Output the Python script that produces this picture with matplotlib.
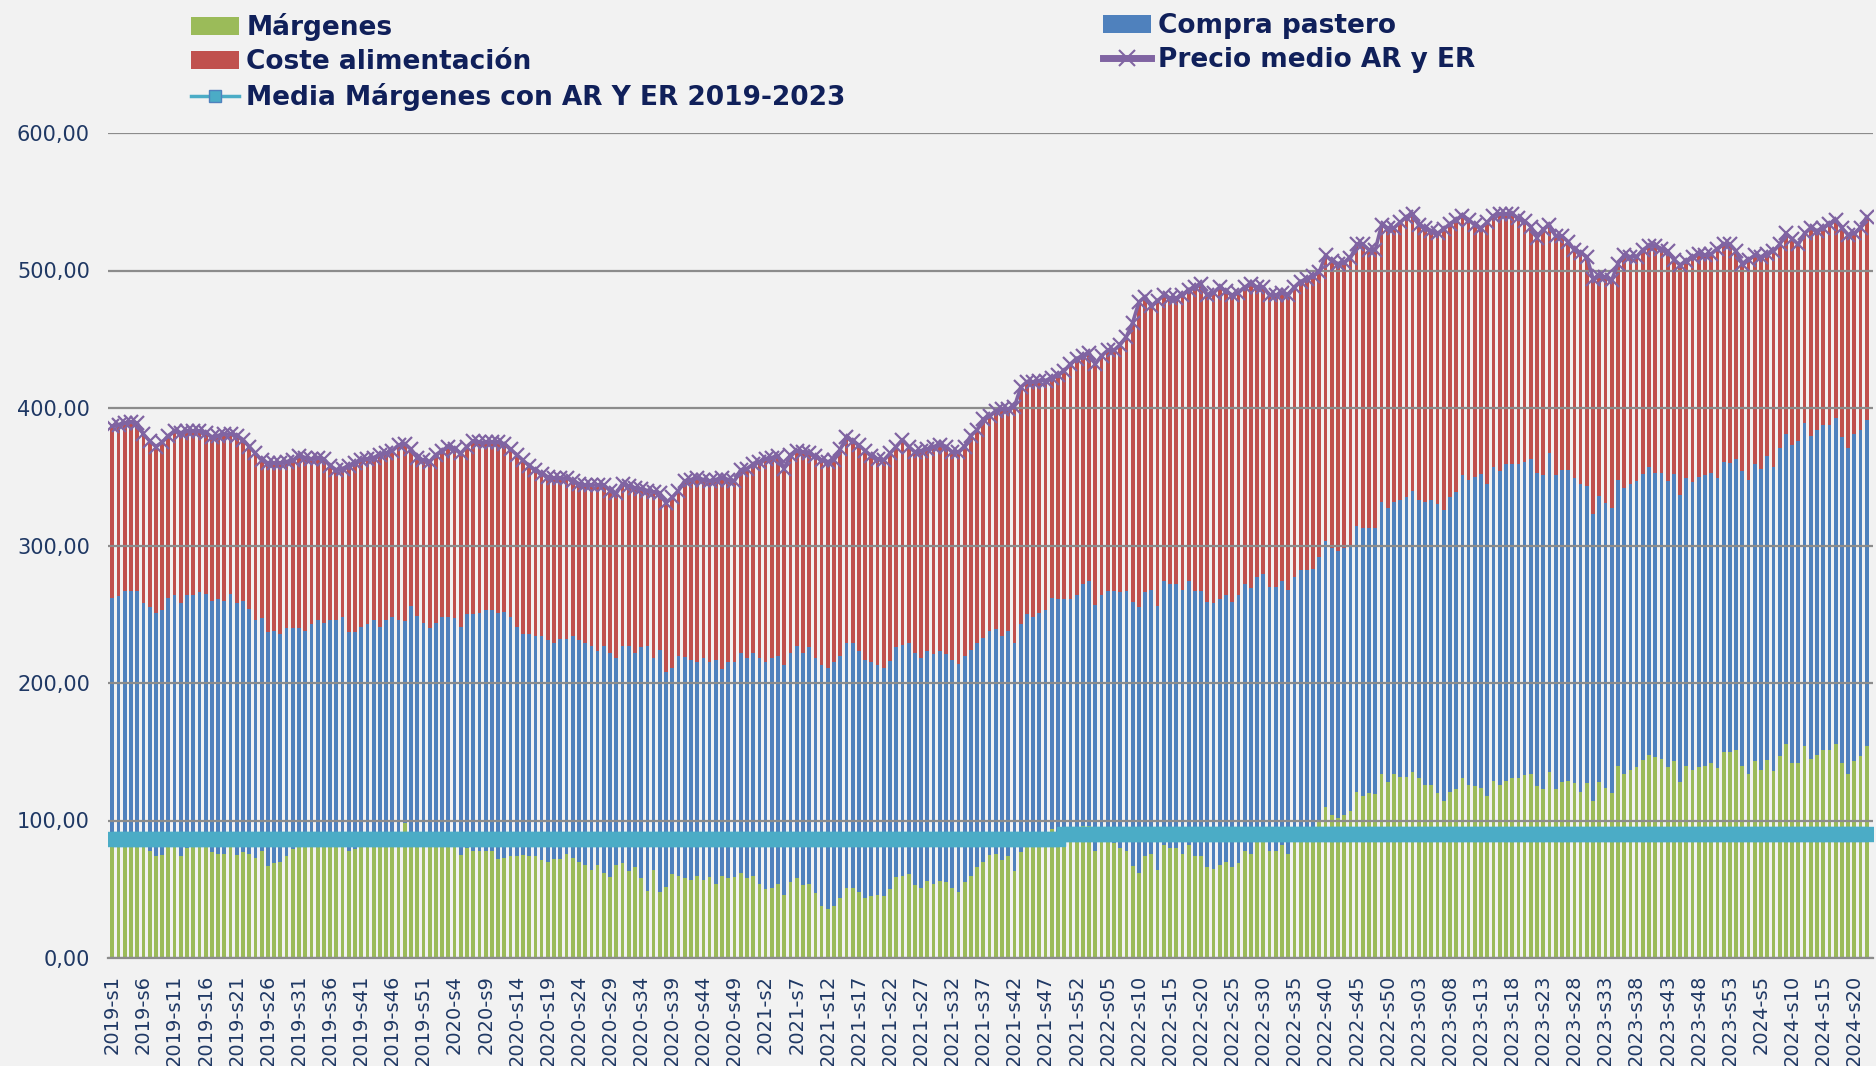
import matplotlib.pyplot as plt
from matplotlib.lines import Line2D
from matplotlib.patches import Patch
import numpy as np

# semanas de cada año que aparecen en el gráfico
semanas_por_anio = [(2019, 52), (2020, 52), (2021, 52), (2022, 52), (2023, 53), (2024, 22)]

# Márgenes (verde), por año
margenes = (
    # 2019
    [88, 88, 92, 92, 88, 84, 78, 74, 75, 84, 84, 74, 80, 84, 84, 84, 77, 76, 76, 82, 75, 77, 76, 73, 78, 67,
     69, 70, 74, 79, 81, 84, 85, 86, 85, 86, 86, 86, 78, 79, 84, 85, 86, 84, 92, 88, 86, 98, 88, 86, 86, 86]
    # 2020
    + [86, 86, 86, 86, 75, 80, 78, 78, 78, 78, 72, 73, 74, 74, 75, 74, 74, 71, 70, 72, 72, 76, 73, 70, 68, 64,
       68, 62, 59, 68, 69, 63, 66, 58, 49, 64, 48, 52, 61, 60, 58, 57, 60, 57, 59, 54, 60, 58, 59, 62, 58, 60]
    # 2021
    + [54, 50, 51, 54, 46, 55, 58, 53, 54, 47, 38, 36, 38, 44, 51, 51, 48, 44, 45, 46, 45, 50, 59, 60, 61, 53,
       51, 56, 54, 56, 55, 51, 48, 55, 60, 66, 70, 75, 76, 71, 74, 63, 77, 81, 85, 86, 86, 94, 88, 85, 86, 88]
    # 2022
    + [96, 96, 78, 86, 86, 84, 80, 78, 67, 62, 74, 76, 64, 82, 80, 80, 76, 82, 74, 74, 66, 65, 68, 70, 66, 69,
       78, 76, 85, 86, 78, 78, 82, 76, 86, 87, 88, 89, 100, 110, 104, 102, 104, 107, 121, 118, 120, 119, 134,
       128, 134, 132]
    # 2023
    + [132, 135, 131, 126, 126, 120, 114, 121, 123, 131, 126, 125, 124, 118, 129, 126, 129, 131, 131, 133, 134,
       125, 123, 135, 123, 128, 129, 127, 121, 127, 114, 128, 124, 120, 140, 134, 137, 139, 144, 148, 146, 145,
       139, 143, 128, 140, 137, 139, 140, 142, 138, 150, 150]
    # 2024
    + [151, 140, 134, 143, 137, 144, 136, 147, 156, 142, 142, 154, 145, 148, 151, 151, 156, 142, 134, 143, 147, 154]
)

# Compra pastero (azul)
compra_pastero = (
    [174, 175, 175, 175, 179, 174, 177, 177, 178, 178, 180, 184, 184, 180, 182, 181, 183, 185, 184, 183, 183,
     183, 178, 173, 169, 170, 169, 166, 166, 161, 159, 154, 158, 160, 159, 160, 160, 162, 159, 158, 157, 158,
     160, 157, 154, 160, 160, 147, 168, 163, 158, 154]
    + [158, 162, 162, 161, 166, 170, 172, 173, 175, 175, 179, 179, 174, 167, 161, 162, 160, 163, 161, 157, 160,
       156, 161, 161, 161, 163, 155, 165, 163, 150, 158, 164, 156, 168, 178, 154, 176, 156, 150, 160, 161, 160,
       155, 161, 156, 163, 150, 157, 156, 160, 160, 162]
    + [164, 165, 167, 166, 167, 167, 169, 169, 172, 171, 175, 175, 177, 176, 178, 178, 175, 173, 170, 167, 166,
       166, 167, 168, 168, 169, 167, 167, 167, 167, 166, 166, 166, 165, 164, 163, 163, 163, 163, 163, 164, 166,
       166, 169, 163, 165, 167, 168, 173, 176, 175, 176]
    + [176, 178, 179, 178, 181, 183, 186, 189, 192, 193, 192, 192, 192, 192, 192, 192, 192, 192, 193, 193, 193,
       193, 193, 194, 193, 195, 194, 193, 192, 193, 192, 192, 192, 192, 191, 195, 194, 194, 192, 193, 194, 194,
       194, 193, 193, 195, 193, 194, 198, 199, 198, 201]
    + [203, 205, 202, 206, 207, 210, 212, 214, 216, 220, 222, 225, 228, 227, 228, 228, 230, 228, 228, 228, 229,
       228, 228, 232, 228, 227, 226, 222, 224, 216, 209, 208, 207, 207, 208, 208, 208, 208, 208, 209, 207, 208,
       208, 209, 209, 209, 209, 211, 211, 211, 211, 211, 210]
    + [212, 214, 214, 216, 219, 221, 221, 224, 225, 231, 234, 235, 235, 236, 237, 237, 237, 237, 237, 238, 237, 237]
)

# Precio medio AR y ER (línea morada)
precio_medio = (
    [387, 388, 389, 390, 389, 381, 376, 372, 375, 380, 383, 382, 383, 383, 383, 382, 379, 380, 381, 381, 380,
     377, 372, 367, 362, 360, 360, 360, 361, 362, 365, 364, 363, 364, 363, 358, 355, 356, 358, 360, 362, 363,
     364, 366, 367, 369, 373, 374, 370, 364, 362, 361]
    + [366, 369, 372, 370, 367, 372, 376, 375, 375, 375, 375, 374, 370, 366, 362, 358, 355, 352, 350, 349, 349,
       349, 347, 345, 344, 344, 344, 344, 340, 338, 345, 343, 342, 341, 340, 339, 338, 331, 335, 340, 347, 348,
       349, 348, 347, 348, 349, 348, 347, 355, 356, 359]
    + [361, 363, 364, 365, 356, 366, 369, 368, 367, 365, 362, 361, 362, 370, 379, 376, 373, 369, 365, 363, 362,
       367, 372, 377, 372, 368, 369, 370, 372, 373, 372, 368, 368, 372, 380, 384, 392, 394, 398, 399, 399, 401,
       415, 419, 419, 420, 420, 422, 424, 427, 432, 436]
    + [438, 440, 432, 438, 442, 442, 446, 452, 462, 477, 481, 474, 478, 482, 480, 480, 482, 486, 488, 490, 482,
       484, 488, 485, 482, 484, 488, 490, 488, 488, 482, 482, 484, 482, 488, 492, 494, 496, 499, 511, 507, 505,
       506, 509, 519, 519, 515, 515, 533, 531, 531, 535]
    + [539, 541, 533, 531, 529, 527, 530, 534, 537, 540, 537, 533, 531, 535, 540, 541, 541, 541, 538, 536, 532,
       524, 530, 533, 525, 525, 521, 515, 513, 510, 494, 496, 495, 493, 505, 511, 510, 510, 515, 518, 518, 516,
       514, 508, 504, 507, 510, 512, 511, 512, 516, 519, 519]
    + [514, 505, 508, 511, 510, 512, 514, 519, 527, 523, 519, 527, 531, 529, 531, 534, 537, 531, 526, 527, 531, 539]
)

# Media de márgenes (dos tramos)
media_margenes = [86.5] * 153 + [90.5] * 130

# etiquetas de semana
semanas = []
for anio, n in semanas_por_anio:
    for s in range(1, n + 1):
        if anio in (2022, 2023):
            semanas.append(f"{anio}-s{s:02d}")
        else:
            semanas.append(f"{anio}-s{s}")

margenes = np.array(margenes, dtype=float)
compra_pastero = np.array(compra_pastero, dtype=float)
precio_medio = np.array(precio_medio, dtype=float)
coste_alimentacion = precio_medio - margenes - compra_pastero

x = np.arange(len(semanas))

fondo = '#F2F2F2'
azul_texto = '#1F3864'

fig = plt.figure(figsize=(18.76, 10.66), dpi=100, facecolor=fondo)
ax = fig.add_axes([108 / 1876, 108 / 1066, 1765 / 1876, 825 / 1066], facecolor=fondo)

ancho = 0.6
ax.bar(x, margenes, width=ancho, color='#9BBB59', zorder=1)
ax.bar(x, compra_pastero, width=ancho, bottom=margenes, color='#4F81BD', zorder=1)
ax.bar(x, coste_alimentacion, width=ancho, bottom=margenes + compra_pastero, color='#C0504D', zorder=1)

ax.plot(x, media_margenes, color='#4BACC6', lw=2, marker='s', ms=9.5,
        mfc='#4BACC6', mec='#4BACC6', zorder=4)
ax.plot(x, precio_medio, color='#8064A2', lw=2.6, marker='x', ms=10.5, mew=1.6, zorder=5)

ax.set_xlim(-0.7, len(x))
ax.set_ylim(0, 600)
ax.set_yticks(range(0, 601, 100))
ax.set_yticklabels([f"{v:.2f}".replace('.', ',') for v in range(0, 601, 100)])
ax.set_xticks(x[::5])
ax.set_xticklabels(semanas[::5], rotation=90)
ax.tick_params(axis='x', length=0, pad=12, labelsize=14, labelcolor=azul_texto)
ax.tick_params(axis='y', length=0, pad=13, labelsize=15, labelcolor=azul_texto)

ax.yaxis.grid(True, color='#8C8C8C', lw=1.6)
ax.set_axisbelow(False)
for lado in ['top', 'right', 'left']:
    ax.spines[lado].set_visible(False)
ax.spines['bottom'].set_color('#8C8C8C')
ax.spines['bottom'].set_linewidth(1.6)

# leyenda en dos bloques
prop = dict(weight='bold', size=19)
h1 = [Patch(fc='#9BBB59'), Patch(fc='#C0504D'),
      Line2D([], [], color='#4BACC6', lw=2.5, marker='s', ms=9, mfc='#4BACC6', mec='#4F81BD')]
l1 = ['Márgenes', 'Coste alimentación', 'Media Márgenes con AR Y ER 2019-2023']
h2 = [Patch(fc='#4F81BD'),
      Line2D([], [], color='#8064A2', lw=5, marker='x', ms=12, mew=1.5)]
l2 = ['Compra pastero', 'Precio medio AR y ER']

for h, l, x0 in [(h1, l1, 191), (h2, l2, 1103)]:
    fig.legend(h, l, loc='upper left', bbox_to_anchor=(x0 / 1876, 1 - 13 / 1066), frameon=False,
               prop=prop, labelcolor='#10205A', handlelength=1.8, handleheight=0.68,
               handletextpad=0.3, labelspacing=0.3, borderpad=0, borderaxespad=0)

fig.savefig('out.png', dpi=100, facecolor=fondo)
